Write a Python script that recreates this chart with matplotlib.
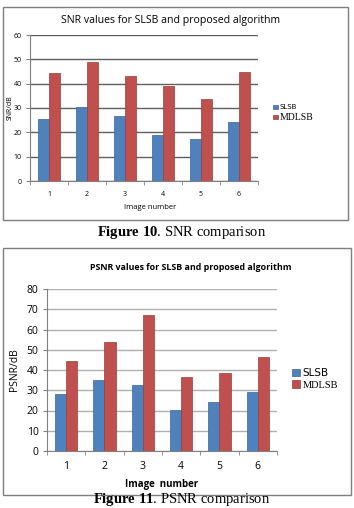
import matplotlib
matplotlib.use("Agg")
import matplotlib.pyplot as plt
from matplotlib.patches import Rectangle
import numpy as np

images = ["1", "2", "3", "4", "5", "6"]
snr_slsb = [25.4, 30.6, 26.6, 18.7, 17.4, 24.3]
snr_mdlsb = [44.2, 48.9, 43.3, 39.0, 33.5, 44.6]
psnr_slsb = [28.0, 35.0, 32.4, 20.2, 24.2, 29.1]
psnr_mdlsb = [44.3, 53.7, 67.0, 36.4, 38.5, 46.4]
snr_yticks = [0, 10, 20, 30, 40, 50, 60]
psnr_yticks = [0, 10, 20, 30, 40, 50, 60, 70, 80]

plt.rcParams["mathtext.fontset"] = "custom"
plt.rcParams["mathtext.rm"] = "Liberation Serif"
plt.rcParams["mathtext.bf"] = "Liberation Serif:bold"

BLUE = "#4F81BD"
RED = "#C0504D"
W, H = 354, 508
fig = plt.figure(figsize=(W / 100, H / 100), dpi=100)

def fbox(x0, y0, x1, y1):
    fig.patches.append(Rectangle((x0 / W, 1 - y1 / H), (x1 - x0) / W, (y1 - y0) / H,
                                 transform=fig.transFigure, fill=False,
                                 edgecolor="#7f7f7f", linewidth=1.0))

def axes_px(l, t, r, b):
    return fig.add_axes([l / W, 1 - b / H, (r - l) / W, (b - t) / H])

def draw(ax, s1, s2, yt, gridc, tickfs, sans):
    x = np.arange(len(images))
    bw = 0.29
    ax.bar(x - bw / 2, s1, bw, color=BLUE, edgecolor="#3a6496", linewidth=0.5, label="SLSB", zorder=3)
    ax.bar(x + bw / 2, s2, bw, color=RED, edgecolor="#963c3a", linewidth=0.5, label="MDLSB", zorder=3)
    ax.set_xlim(-0.5, len(images) - 0.5)
    ax.set_ylim(yt[0], yt[-1])
    ax.set_yticks(yt)
    ax.set_yticklabels([str(v) for v in yt], fontsize=tickfs, family=sans)
    ax.set_xticks(x)
    ax.set_xticklabels(images, fontsize=tickfs, family=sans)
    ax.set_xticks(np.arange(-0.5, len(images)), minor=True)
    ax.tick_params(axis="x", which="major", length=0, pad=7)
    ax.tick_params(axis="x", which="minor", length=3, color="#808080", direction="out")
    ax.tick_params(axis="y", length=3, color="#808080", direction="out", pad=3)
    ax.yaxis.grid(True, color=gridc, linewidth=1.0, zorder=0)
    for s in ["top", "right"]:
        ax.spines[s].set_visible(False)
    for s in ["left", "bottom"]:
        ax.spines[s].set_color("#808080")
    ax.set_facecolor("none")

# Top chart
fbox(3, 7, 348, 220)
ax1 = axes_px(30, 35, 258, 181)
draw(ax1, snr_slsb, snr_mdlsb, snr_yticks, "#606060", 5, "Open Sans")
fig.text(171 / W, 1 - 20 / H, "SNR values for SLSB and proposed algorithm",
         ha="center", va="center", fontsize=7.6, family="Open Sans")
fig.text(10 / W, 1 - 108 / H, "SNR/dB", rotation=90, ha="center", va="center", fontsize=5, family="Open Sans")
fig.text(150 / W, 1 - 208 / H, "Image number", ha="center", va="center", fontsize=5.5, family="Open Sans")
leg1 = ax1.legend(loc="center left", bbox_to_anchor=(270 / W, 1 - 113 / H), bbox_transform=fig.transFigure,
                  frameon=False, fontsize=5, handlelength=0.6, handleheight=0.6, handletextpad=0.3,
                  labelspacing=0.3, borderpad=0)
leg1.get_texts()[1].set_family("Liberation Serif")
leg1.get_texts()[1].set_fontsize(7)

fig.text(182 / W, 1 - 232 / H, r"$\mathbf{Figure}$ $\mathbf{10}$. SNR comparison", ha="center", va="center",
         fontsize=10.5, family="Liberation Serif")

# Bottom chart
fbox(3, 248, 351, 495)
ax2 = axes_px(47, 289, 277, 451)
draw(ax2, psnr_slsb, psnr_mdlsb, psnr_yticks, "#b0b0b0", 7.5, "Open Sans")
fig.text(191 / W, 1 - 267 / H, "PSNR values for SLSB and proposed algorithm", ha="center", va="center",
         fontsize=6.4, family="Open Sans", fontweight="bold")
fig.text(15 / W, 1 - 370 / H, "PSNR/dB", rotation=90, ha="center", va="center", fontsize=7.5, family="Open Sans")
fig.text(162 / W, 1 - 485 / H, "Image  number", ha="center", va="center", fontsize=7, family="Open Sans",
         fontweight="bold")
leg2 = ax2.legend(loc="center left", bbox_to_anchor=(287 / W, 1 - 379 / H), bbox_transform=fig.transFigure,
                  frameon=False, fontsize=7.5, handlelength=0.7, handleheight=0.7, handletextpad=0.3,
                  labelspacing=0.2, borderpad=0)
leg2.get_texts()[1].set_family("Liberation Serif")

fig.text(182 / W, 1 - 499 / H, r"$\mathbf{Figure}$ $\mathbf{11}$. PSNR comparison", ha="center", va="center",
         fontsize=10.5, family="Liberation Serif")

fig.savefig("out.png", dpi=100, facecolor="white")
